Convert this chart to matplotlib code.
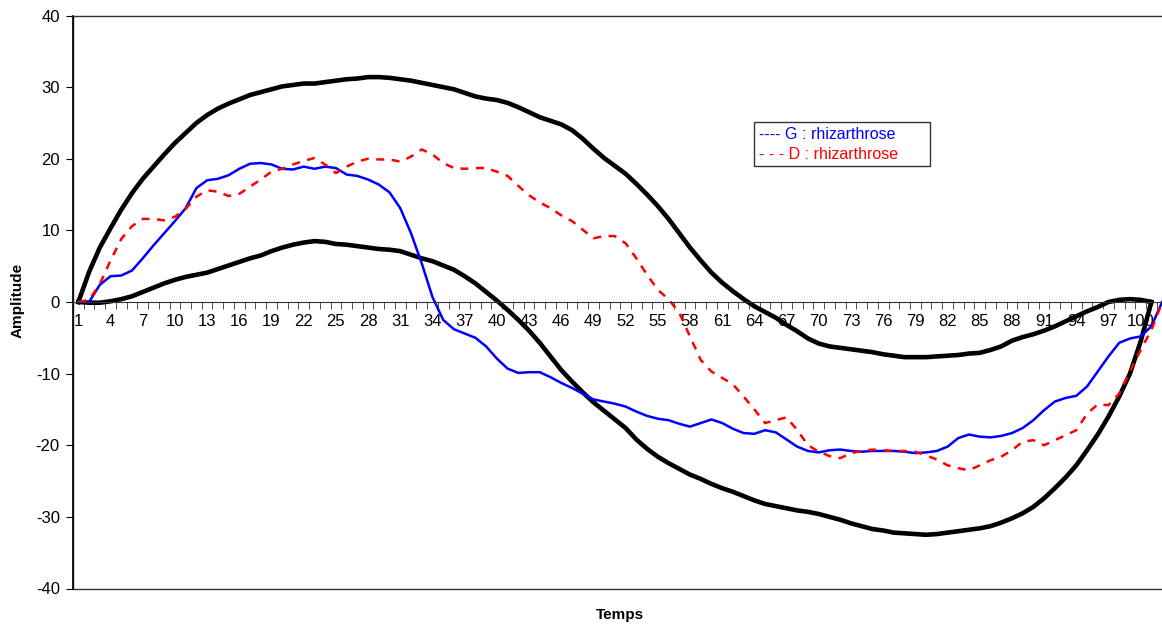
import matplotlib
matplotlib.use('Agg')
import matplotlib.pyplot as plt
import numpy as np

plt.rcParams['font.family'] = ['Liberation Sans', 'DejaVu Sans']
plt.rcParams['axes.unicode_minus'] = False

# data
temps = np.arange(1, 103)
upper_limit = [0, 4.2, 7.6, 10.3, 12.9, 15.2, 17.2, 18.9, 20.6, 22.2,
               23.6, 25.0, 26.1, 27.0, 27.7, 28.3, 28.9, 29.3, 29.7, 30.1,
               30.3, 30.5, 30.5, 30.7, 30.9, 31.1, 31.2, 31.4, 31.4, 31.3,
               31.1, 30.9, 30.6, 30.3, 30.0, 29.7, 29.2, 28.7, 28.4, 28.2,
               27.8, 27.2, 26.5, 25.8, 25.3, 24.8, 24.0, 22.8, 21.4, 20.1,
               19.0, 17.9, 16.5, 15.0, 13.4, 11.6, 9.6, 7.6, 5.8, 4.1,
               2.7, 1.5, 0.4, -0.6, -1.4, -2.2, -3.2, -4.1, -5.1, -5.8,
               -6.2, -6.4, -6.6, -6.8, -7.0, -7.3, -7.5, -7.7, -7.7, -7.7,
               -7.6, -7.5, -7.4, -7.2, -7.1, -6.7, -6.2, -5.4, -4.9, -4.5,
               -4.0, -3.4, -2.7, -2.0, -1.3, -0.7, 0.0, 0.3, 0.4, 0.3,
               0.0]
lower_limit = [0, -0.1, -0.1, 0.1, 0.4, 0.8, 1.4, 2.0, 2.6, 3.1,
               3.5, 3.8, 4.1, 4.6, 5.1, 5.6, 6.1, 6.5, 7.1, 7.6,
               8.0, 8.3, 8.5, 8.4, 8.1, 8.0, 7.8, 7.6, 7.4, 7.3,
               7.1, 6.6, 6.1, 5.7, 5.1, 4.5, 3.6, 2.6, 1.4, 0.2,
               -1.1, -2.5, -4.0, -5.7, -7.6, -9.5, -11.1, -12.6, -14.0, -15.2,
               -16.4, -17.6, -19.2, -20.5, -21.6, -22.5, -23.3, -24.1, -24.7, -25.4,
               -26.0, -26.5, -27.1, -27.7, -28.2, -28.5, -28.8, -29.1, -29.3, -29.6,
               -30.0, -30.4, -30.9, -31.3, -31.7, -31.9, -32.2, -32.3, -32.4, -32.5,
               -32.4, -32.2, -32.0, -31.8, -31.6, -31.3, -30.8, -30.2, -29.5, -28.6,
               -27.4, -26.0, -24.5, -22.8, -20.7, -18.5, -16.0, -13.2, -10.0, -5.5,
               0.0]
g_rhiz = [0, 0, 2.4, 3.6, 3.7, 4.4, 6.1, 7.9, 9.6, 11.3,
          13.1, 15.9, 17.0, 17.2, 17.7, 18.6, 19.3, 19.4, 19.2, 18.6,
          18.5, 18.9, 18.6, 18.9, 18.7, 17.8, 17.6, 17.1, 16.4, 15.3,
          13.1, 9.6, 5.4, 0.7, -2.5, -3.8, -4.4, -5.0, -6.2, -7.9,
          -9.3, -9.9, -9.8, -9.8, -10.5, -11.3, -12.0, -12.8, -13.6, -13.9,
          -14.2, -14.6, -15.3, -15.9, -16.3, -16.5, -17.0, -17.4, -16.9, -16.4,
          -16.9, -17.7, -18.3, -18.4, -17.9, -18.2, -19.2, -20.2, -20.8, -21.0,
          -20.7, -20.6, -20.8, -20.9, -20.8, -20.8, -20.8, -20.9, -21.1, -21.0,
          -20.8, -20.2, -19.0, -18.5, -18.8, -18.9, -18.7, -18.3, -17.6, -16.5,
          -15.1, -13.9, -13.4, -13.1, -11.8, -9.7, -7.6, -5.7, -5.1, -4.8,
          -3.4, 0.0]
d_rhiz = [0, 0.3, 2.5, 5.8, 8.8, 10.6, 11.6, 11.6, 11.4, 11.9,
          13.0, 14.7, 15.6, 15.4, 14.8, 15.1, 16.1, 17.1, 18.2, 18.6,
          19.2, 19.7, 20.1, 19.2, 18.0, 18.9, 19.6, 20.0, 19.9, 19.9,
          19.6, 20.3, 21.3, 20.6, 19.4, 18.7, 18.6, 18.7, 18.7, 18.2,
          17.6, 16.2, 14.9, 13.9, 13.1, 12.1, 11.3, 10.1, 8.9, 9.2,
          9.2, 8.2, 6.1, 3.8, 1.7, 0.4, -1.5, -4.8, -8.1, -9.7,
          -10.6, -11.5, -13.2, -15.0, -16.9, -16.5, -16.1, -17.9, -20.0, -20.9,
          -21.5, -21.8, -21.1, -20.8, -20.6, -20.7, -20.8, -20.8, -20.9, -21.4,
          -22.0, -22.8, -23.2, -23.5, -22.8, -22.1, -21.6, -20.7, -19.5, -19.3,
          -20.0, -19.3, -18.6, -17.9, -15.6, -14.3, -14.4, -12.8, -9.7, -6.7,
          -3.9, 0.0]
tick_labels = [str(t) for t in temps[::3]]


def main():
    fig = plt.figure(figsize=(11.62, 6.28), dpi=100)
    ax = fig.add_axes([73 / 1162, 39.5 / 628, 1094.5 / 1162, 573 / 628])

    ax.plot(temps[:len(upper_limit)], upper_limit, color='black', lw=3.3,
            solid_joinstyle='round')
    ax.plot(temps[:len(lower_limit)], lower_limit, color='black', lw=3.3,
            solid_joinstyle='round')
    l_g, = ax.plot(temps[:len(g_rhiz)], g_rhiz, color='#0000ff', lw=1.8,
                   label='---- G : rhizarthrose      ')
    l_d, = ax.plot(temps[:len(d_rhiz)], d_rhiz, color='#ff0000', lw=1.8,
                   dashes=(3.2, 3.0), label='- - - D : rhizarthrose      ')

    ax.set_xlim(0.5, len(temps) + 0.5)
    ax.set_ylim(-40, 40)

    # frame of plot area, x axis through zero
    ax.patch.set_edgecolor('#333333')
    ax.patch.set_linewidth(1.0)
    for s in ['top', 'right']:
        ax.spines[s].set_visible(False)
    ax.spines['bottom'].set_position(('data', 0))
    ax.spines['bottom'].set_color('#333333')
    ax.spines['left'].set_color('black')
    ax.spines['left'].set_linewidth(1.2)

    ax.set_yticks(np.arange(-40, 41, 10))
    ax.tick_params(axis='y', direction='out', length=5, pad=4.5, labelsize=12,
                   color='black')
    ax.set_xticks(temps[::3])
    ax.set_xticklabels(tick_labels)
    ax.set_xticks(np.arange(0.5, len(temps) + 1, 1), minor=True)
    ax.tick_params(axis='x', which='major', length=0, pad=9, labelsize=12)
    ax.tick_params(axis='x', which='minor', direction='out', length=5,
                   color='#333333')

    fig.text(18 / 1162, 1 - 300 / 628, 'Amplitude', rotation=90,
             fontsize=11, fontweight='bold', ha='center', va='center')
    fig.text(620 / 1162, 1 - 615 / 628, 'Temps', fontsize=11,
             fontweight='bold', ha='center', va='center')

    leg = ax.legend(handles=[l_g, l_d], loc='upper left',
                    bbox_to_anchor=(754 / 1162, 1 - 122 / 628),
                    bbox_transform=fig.transFigure, fontsize=11.5,
                    handlelength=0, handletextpad=0, borderaxespad=0,
                    fancybox=False, framealpha=1, borderpad=0.3,
                    labelspacing=0.3)
    leg.get_frame().set_edgecolor('#333333')
    leg.get_frame().set_linewidth(1.0)
    for h in leg.legend_handles:
        h.set_visible(False)
    for txt, c in zip(leg.get_texts(), ['#0000ff', '#ff0000']):
        txt.set_color(c)

    fig.savefig('out.png', dpi=100)


if __name__ == '__main__':
    main()
